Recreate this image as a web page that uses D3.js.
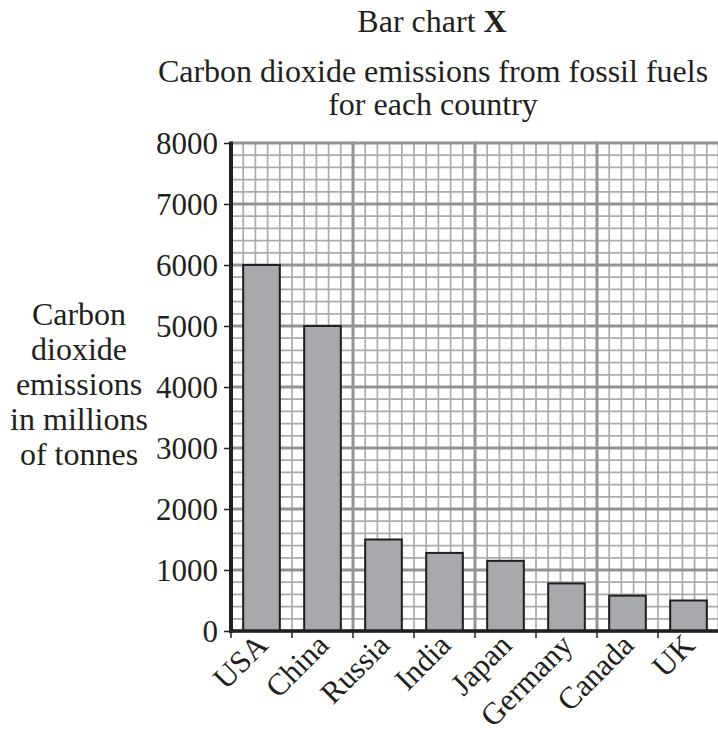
<!DOCTYPE html>
<html>
<head>
<meta charset="utf-8">
<script src="https://cdn.jsdelivr.net/npm/d3@7"></script>
<style>
  body { margin: 0; background: #fff; }
  text { font-family: "Liberation Serif", "Times New Roman", serif; fill: #231f20; }
</style>
</head>
<body>
<svg id="chart" width="718" height="733"></svg>
<script>
const countries = ["USA", "China", "Russia", "India", "Japan", "Germany", "Canada", "UK"];
const emissions = [6000, 5000, 1500, 1280, 1150, 780, 580, 500];
const yTicks = [0, 1000, 2000, 3000, 4000, 5000, 6000, 7000, 8000];
const yLabelLines = ["Carbon", "dioxide", "emissions", "in millions", "of tonnes"];
const subtitleLines = ["Carbon dioxide emissions from fossil fuels", "for each country"];

const svg = d3.select("#chart");
const plotLeft = 231, plotTop = 143, plotSize = 488;

const x = d3.scaleBand()
    .domain(countries)
    .range([plotLeft, plotLeft + plotSize])
    .paddingInner(0.4)
    .paddingOuter(0.2);

const y = d3.scaleLinear().domain([0, 8000]).range([plotTop + plotSize, plotTop]);
// grid across is squared paper, same units as y
const gx = d3.scaleLinear().domain([0, 8000]).range([plotLeft, plotLeft + plotSize]);

// minor grid
const minor = d3.range(0, 8001, 200);
const g = svg.append("g");
g.selectAll(".hmin").data(minor).enter().append("line")
    .attr("x1", plotLeft).attr("x2", plotLeft + plotSize)
    .attr("y1", d => y(d)).attr("y2", d => y(d))
    .attr("stroke", "#ababab").attr("stroke-width", 1.7);
g.selectAll(".vmin").data(minor).enter().append("line")
    .attr("y1", plotTop).attr("y2", plotTop + plotSize)
    .attr("x1", d => gx(d)).attr("x2", d => gx(d))
    .attr("stroke", "#ababab").attr("stroke-width", 1.7);
// major grid
g.selectAll(".hmaj").data(yTicks).enter().append("line")
    .attr("x1", plotLeft).attr("x2", plotLeft + plotSize)
    .attr("y1", d => y(d)).attr("y2", d => y(d))
    .attr("stroke", "#939393").attr("stroke-width", 3);
g.selectAll(".vmaj").data(d3.range(0, 8001, 2000)).enter().append("line")
    .attr("y1", plotTop - 1.5).attr("y2", plotTop + plotSize)
    .attr("x1", d => gx(d)).attr("x2", d => gx(d))
    .attr("stroke", "#939393").attr("stroke-width", 3);

// bars
svg.selectAll(".bar").data(countries).enter().append("rect")
    .attr("x", d => x(d))
    .attr("width", x.bandwidth())
    .attr("y", (d, i) => y(emissions[i]))
    .attr("height", (d, i) => y(0) - y(emissions[i]))
    .attr("fill", "#a7a9ac")
    .attr("stroke", "#231f20")
    .attr("stroke-width", 2);

// y axis
const yAxis = svg.append("g")
    .attr("transform", `translate(${plotLeft},0)`)
    .call(d3.axisLeft(y).tickValues(yTicks).tickSize(7).tickPadding(6).tickFormat(d3.format("d")));
yAxis.select(".domain").remove();
yAxis.selectAll(".tick line").attr("stroke", "#231f20").attr("stroke-width", 1.5);
yAxis.selectAll("text").attr("font-size", 31).attr("font-family", "Liberation Serif").attr("fill", "#231f20").attr("dy", "0.34em");
svg.append("line")
    .attr("x1", plotLeft).attr("x2", plotLeft)
    .attr("y1", plotTop - 1.5).attr("y2", y(0) + 2)
    .attr("stroke", "#231f20").attr("stroke-width", 4);

// x axis
const step = x.step();
svg.selectAll(".xtick").data(countries).enter().append("line")
    .attr("x1", d => x(d) - x.paddingOuter() * step)
    .attr("x2", d => x(d) - x.paddingOuter() * step)
    .attr("y1", y(0)).attr("y2", y(0) + 7)
    .attr("stroke", "#231f20").attr("stroke-width", 1.5);
svg.append("line")
    .attr("x1", plotLeft - 2).attr("x2", 718)
    .attr("y1", y(0)).attr("y2", y(0))
    .attr("stroke", "#231f20").attr("stroke-width", 3.5);

svg.selectAll(".xlab").data(countries).enter().append("text")
    .attr("transform", d => `translate(${x(d) + x.bandwidth() / 2 + 8},${y(0) + 16}) rotate(-45)`)
    .attr("text-anchor", "end")
    .attr("font-size", 31)
    .text(d => d);

// y label
svg.append("text")
    .attr("text-anchor", "middle")
    .attr("font-size", 32)
    .selectAll("tspan").data(yLabelLines).enter().append("tspan")
    .attr("x", 79)
    .attr("y", (d, i) => 325 + i * 35)
    .text(d => d);

// titles
const title = svg.append("text")
    .attr("x", 432).attr("y", 32)
    .attr("text-anchor", "middle")
    .attr("font-size", 32);
title.append("tspan").text("Bar chart ");
title.append("tspan").attr("font-weight", "bold").text("X");

svg.append("text")
    .attr("text-anchor", "middle")
    .attr("font-size", 32)
    .selectAll("tspan").data(subtitleLines).enter().append("tspan")
    .attr("x", 433)
    .attr("y", (d, i) => 82 + i * 33)
    .text(d => d);
</script>
</body>
</html>
